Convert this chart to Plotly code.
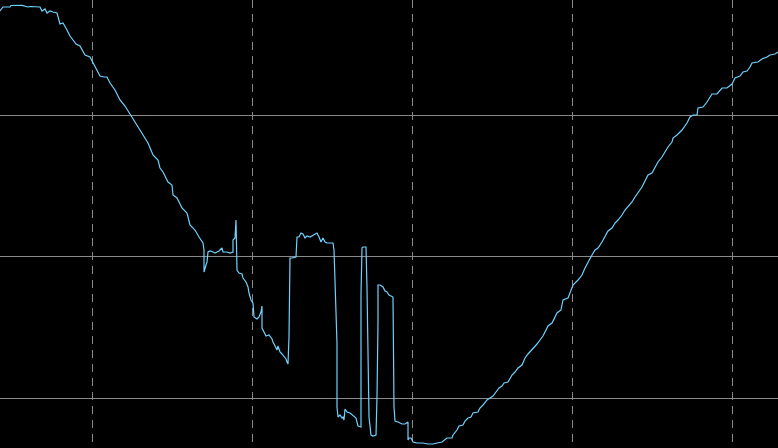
import plotly.graph_objects as go

# Trace, in screen-like units (y grows downward)

descent_x = [0, 3, 10, 11, 22, 25, 28, 30, 40, 42, 45, 47, 50, 53, 57, 60, 63, 67, 70, 73,
             76, 80, 83, 85, 90, 93, 97, 100, 104, 107, 110, 115, 120, 125, 130, 135, 140,
             145, 148, 153, 158, 160, 163, 168, 172, 173, 177, 182, 187, 190, 195, 199, 203, 204]
descent_y = [11, 7, 7, 5.5, 5.3, 6, 7, 6.5, 7, 11, 9, 13, 11, 12, 13, 24, 23, 30, 36, 40,
             44, 46, 52, 55, 57, 63, 70, 76, 77, 77, 83, 90, 100, 106, 114, 122, 130,
             137, 143, 155, 160, 168, 172, 182, 185, 195, 198, 208, 213, 225, 230, 237, 243, 250]

noisy_x = [204, 206, 207, 208, 210, 213, 215, 217, 219, 222, 223, 227, 230, 233, 233, 235, 236,
           237, 239, 242, 243, 246, 248, 249, 251, 253, 254, 257, 259, 261, 262, 262, 264, 266,
           269, 272, 273, 275, 277, 278, 280, 282, 284, 286, 287, 288, 289, 290, 292, 296, 297,
           299, 301, 303, 305, 307, 310, 313, 315, 317, 319, 321, 323, 325, 327, 333, 334, 335,
           337, 337, 338, 340, 342, 343, 344, 345, 347, 350, 353, 356, 358, 361, 361, 362, 363,
           366, 367, 368, 369, 371, 373, 376, 377, 378, 378, 380, 382, 383, 385, 387, 389, 392,
           393, 394, 395, 398, 402, 405, 407, 408]
noisy_y = [272, 265, 262, 252, 251, 252, 253, 252, 251, 248, 252, 252, 253, 252, 240, 238, 220,
           270, 273, 274, 278, 282, 287, 293, 300, 303, 317, 319, 317, 312, 306, 328, 333, 336,
           335, 339, 342, 347, 350, 346, 352, 354, 357, 359, 362, 364, 337, 258, 258, 257, 237,
           237, 233, 234, 238, 236, 237, 235, 234, 233, 237, 242, 238, 242, 243, 243, 250, 280,
           343, 407, 417, 415, 418, 417, 420, 409, 412, 413, 416, 418, 426, 427, 295, 248, 247,
           247, 288, 373, 417, 435, 436, 435, 397, 322, 285, 285, 286, 287, 291, 292, 295, 296,
           297, 407, 421, 422, 424, 424, 422, 422]

recovery_x = [408, 409, 411, 413, 417, 420, 423, 428, 433, 437, 442, 447, 452, 453, 457, 459,
              463, 465, 468, 471, 473, 478, 480, 483, 487, 490, 493, 496, 499, 502, 504, 508,
              512, 515, 518, 522, 525, 528, 530, 533, 537, 540, 543, 546, 548, 552, 555, 557,
              561, 563, 568, 570, 573, 578, 582, 585, 588, 592, 595, 598, 602, 605, 608, 612,
              615, 618, 622, 625, 628, 632, 635, 638, 642, 645, 648, 652, 655, 658, 662, 665,
              668, 672, 673, 677, 682, 687, 690, 693, 697, 698, 703, 707, 712, 717, 722, 727,
              732, 735, 740, 743, 747, 750, 752, 758, 762, 767, 770, 775, 778]
recovery_y = [440, 438, 438, 442, 443, 443, 443, 444, 444, 443, 442, 438, 438, 435, 430, 426,
              425, 421, 418, 417, 413, 412, 408, 405, 400, 398, 396, 392, 388, 386, 383, 382,
              375, 372, 368, 365, 358, 354, 352, 348, 344, 340, 336, 330, 326, 323, 317, 313,
              310, 300, 298, 292, 285, 280, 275, 268, 262, 255, 250, 248, 242, 237, 231, 228,
              223, 220, 215, 210, 207, 202, 197, 193, 187, 181, 175, 173, 167, 162, 157, 152,
              147, 142, 138, 135, 130, 123, 117, 115, 115, 108, 107, 102, 94, 94, 88, 88,
              84, 78, 76, 72, 71, 67, 63, 62, 59, 57, 55, 54, 52]

x_vals = descent_x + noisy_x + recovery_x
y_vals = descent_y + noisy_y + recovery_y

fig = go.Figure()

fig.add_trace(
    go.Scatter(
        x=x_vals,
        y=y_vals,
        mode="lines",
        line=dict(color="rgb(110,210,255)", width=1.2),
        hoverinfo="skip",
    )
)

fig.update_layout(
    width=778,
    height=448,
    margin=dict(l=0, r=0, t=0, b=0),
    paper_bgcolor="black",
    plot_bgcolor="black",
    showlegend=False,
    xaxis=dict(
        range=[0, 778],
        tick0=92.5,
        dtick=160,
        showgrid=True,
        gridcolor="#8a8a8a",
        gridwidth=1,
        griddash="8px,6px",
        showticklabels=False,
        ticks="",
        zeroline=False,
        showline=False,
    ),
    yaxis=dict(
        range=[448, 0],
        tick0=115,
        dtick=141.5,
        showgrid=True,
        gridcolor="#8a8a8a",
        gridwidth=1,
        showticklabels=False,
        ticks="",
        zeroline=False,
        showline=False,
    ),
)

# page body has a default 8px margin; drop it so the plot sits flush with the window
fig.write_html(
    "out.html",
    config={"displayModeBar": False},
    post_script="document.body.style.margin='0';document.body.style.overflow='hidden';",
)
